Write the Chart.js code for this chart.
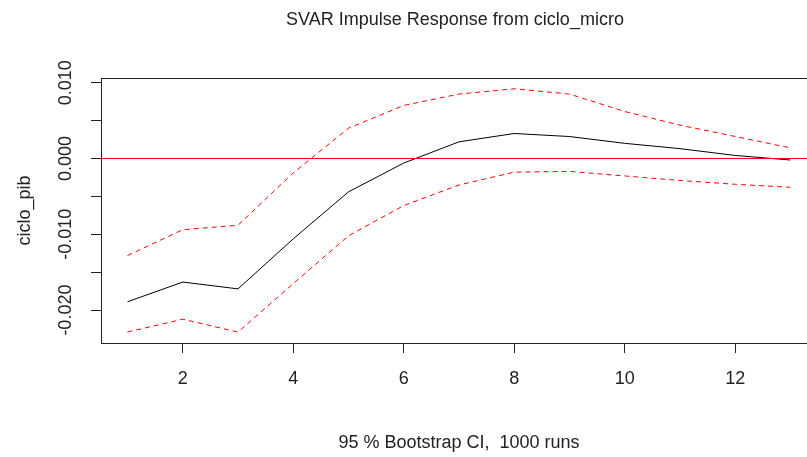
<!DOCTYPE html>
<html>
<head>
<meta charset="utf-8">
<script src="https://cdn.jsdelivr.net/npm/chart.js@4.4.1/dist/chart.umd.min.js"></script>
<style>
  html, body { margin:0; padding:0; background:#fff; overflow:hidden; }
  /* canvas is wider than the window: the R plot box runs past the right edge */
  #irf { display:block; }
</style>
</head>
<body>
<canvas id="irf" width="830" height="457"></canvas>
<script>
// SVAR impulse response ciclo_micro -> ciclo_pib, 95% bootstrap band
const horizon = [1,2,3,4,5,6,7,8,9,10,11,12,13];
const irf   = [-0.0189,-0.0163,-0.0172,-0.0106,-0.0044,-0.0006,0.0022,0.0033,0.0029,0.0020,0.0013,0.0004,-0.0002];
const upper = [-0.0128,-0.0094,-0.0088,-0.0019,0.0040,0.0070,0.0085,0.0092,0.0085,0.0062,0.0044,0.0029,0.0014];
const lower = [-0.0229,-0.0212,-0.0229,-0.0165,-0.0102,-0.0062,-0.0035,-0.0018,-0.0017,-0.0023,-0.0029,-0.0034,-0.0038];
const xTicks = [2,4,6,8,10,12];
const yTicks = [-0.020,-0.015,-0.010,-0.005,0.000,0.005,0.010];
const yTickLabels = ['-0.020','','-0.010','','0.000','','0.010'];
const zeroLine = [0,0];

const FONT = "'Liberation Sans', Arial, sans-serif";
const INK = '#222';

const pts = ys => horizon.map((x,i)=> ({ x, y: ys[i] }));

// box on three sides (right side is off-canvas) + main title centred on the plot
const plotFrame = {
  id: 'plotFrame',
  afterDraw(chart){
    const { ctx, chartArea:a } = chart;
    ctx.save();
    ctx.strokeStyle = INK; ctx.lineWidth = 1;
    ctx.strokeRect(Math.round(a.left)+0.5, Math.round(a.top)+0.5, Math.round(a.right-a.left), Math.round(a.bottom-a.top));
    ctx.fillStyle = INK;
    ctx.font = `18px ${FONT}`;
    ctx.textAlign = 'center'; ctx.textBaseline = 'middle';
    ctx.fillText('SVAR Impulse Response from ciclo_micro', (a.left+a.right)/2 - 4, 20);
    ctx.restore();
  }
};

const xMin = 0.52, xMax = 13.48;

new Chart(document.getElementById('irf').getContext('2d'), {
  type: 'line',
  data: {
    datasets: [
      { data: [{x:xMin,y:zeroLine[0]},{x:xMax,y:zeroLine[1]}], borderColor:'#ff0000', borderWidth:1, order:0 },
      { data: pts(irf), borderColor:'#000', borderWidth:1, order:1 },
      { data: pts(upper), borderColor:'#ff0000', borderWidth:1, borderDash:[5,4], order:2 },
      { data: pts(lower), borderColor:'#ff0000', borderWidth:1, borderDash:[5,4], order:2 }
    ]
  },
  options: {
    responsive: false,
    animation: false,
    layout: { padding: { top:78, right:13, left:0, bottom:0 } },
    elements: { point: { radius:0 }, line: { tension:0 } },
    plugins: { legend:{ display:false }, tooltip:{ enabled:false }, title:{ display:false } },
    scales: {
      x: {
        type: 'linear', min: xMin, max: xMax,
        afterFit: s => { s.height = 114; },
        afterBuildTicks: s => { s.ticks = xTicks.map(v=> ({ value:v })); },
        grid: { drawOnChartArea:false, drawTicks:true, tickLength:10, color:INK, lineWidth:1 },
        border: { display:false },
        ticks: { color:INK, font:{ family:FONT, size:18 }, padding:15, maxRotation:0, autoSkip:false,
                 callback: v => String(v) },
        title: { display:true, text:'95 % Bootstrap CI,  1000 runs', color:INK,
                 font:{ family:FONT, size:18 }, padding:{ top:0, bottom:3 } }
      },
      y: {
        type: 'linear', min: -0.02434, max: 0.01062,
        afterFit: s => { s.width = 101; },
        afterBuildTicks: s => { s.ticks = yTicks.map(v=> ({ value:v })); },
        grid: { drawOnChartArea:false, drawTicks:true, tickLength:10, color:INK, lineWidth:1 },
        border: { display:false },
        ticks: { color:INK, font:{ family:FONT, size:18 }, minRotation:90, maxRotation:90,
                 crossAlign:'center', padding:-1, autoSkip:false,
                 callback: (v,i)=> yTickLabels[i] },
        title: { display:true, text:'ciclo_pib', color:INK,
                 font:{ family:FONT, size:18 }, padding:{ top:14, bottom:0 } }
      }
    }
  },
  plugins: [plotFrame]
});
</script>
</body>
</html>
